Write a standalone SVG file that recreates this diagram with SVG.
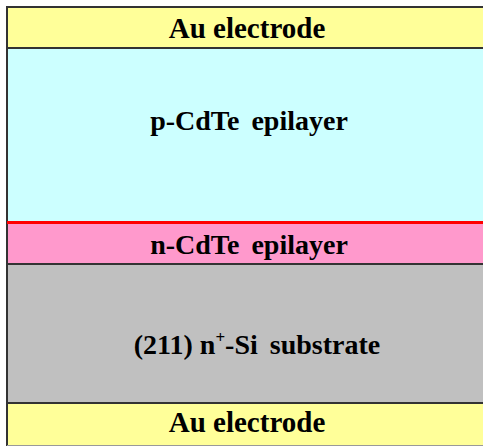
<svg xmlns="http://www.w3.org/2000/svg" width="483" height="446" viewBox="0 0 483 446">
<style>
.lbl{font-family:"Liberation Serif","Times New Roman",serif;font-weight:bold;font-size:28px;fill:#000;text-anchor:middle}
.ws{word-spacing:5px}
.au{font-size:29px}
.bd{stroke:#333;stroke-width:2}
</style>
<rect width="483" height="446" fill="#fff"/>
<g id="au-top">
<rect x="7" y="7" width="480" height="41" fill="#ffff99"/>
<text class="lbl au" x="247" y="38">Au electrode</text>
</g>
<g id="p-cdte">
<rect x="7" y="48" width="480" height="174" fill="#ccffff"/>
<text class="lbl ws" x="249" y="130">p-CdTe epilayer</text>
</g>
<g id="n-cdte">
<rect x="7" y="222" width="480" height="42" fill="#ff99cc"/>
<text class="lbl ws" x="249" y="254">n-CdTe epilayer</text>
</g>
<g id="si-substrate">
<rect x="7" y="264" width="480" height="139" fill="#c0c0c0"/>
<text class="lbl" x="257" y="354">(211) n<tspan font-size="17" dy="-11">+</tspan><tspan dy="11">-Si</tspan><tspan class="ws"> substrate</tspan></text>
</g>
<g id="au-bottom">
<rect x="7" y="403" width="480" height="43" fill="#ffff99"/>
<text class="lbl au" x="247" y="432">Au electrode</text>
</g>
<g id="lines">
<line class="bd" x1="7" y1="7" x2="483" y2="7"/>
<line class="bd" x1="7" y1="6" x2="7" y2="446"/>
<line class="bd" x1="7" y1="48" x2="483" y2="48"/>
<line x1="7" y1="222.5" x2="483" y2="222.5" stroke="#ff0000" stroke-width="3"/>
<line class="bd" x1="7" y1="264" x2="483" y2="264" stroke-width="1.5"/>
<line class="bd" x1="7" y1="403" x2="483" y2="403"/>
<line x1="7" y1="445.5" x2="483" y2="445.5" stroke="#999" stroke-width="1"/>
</g>
</svg>
